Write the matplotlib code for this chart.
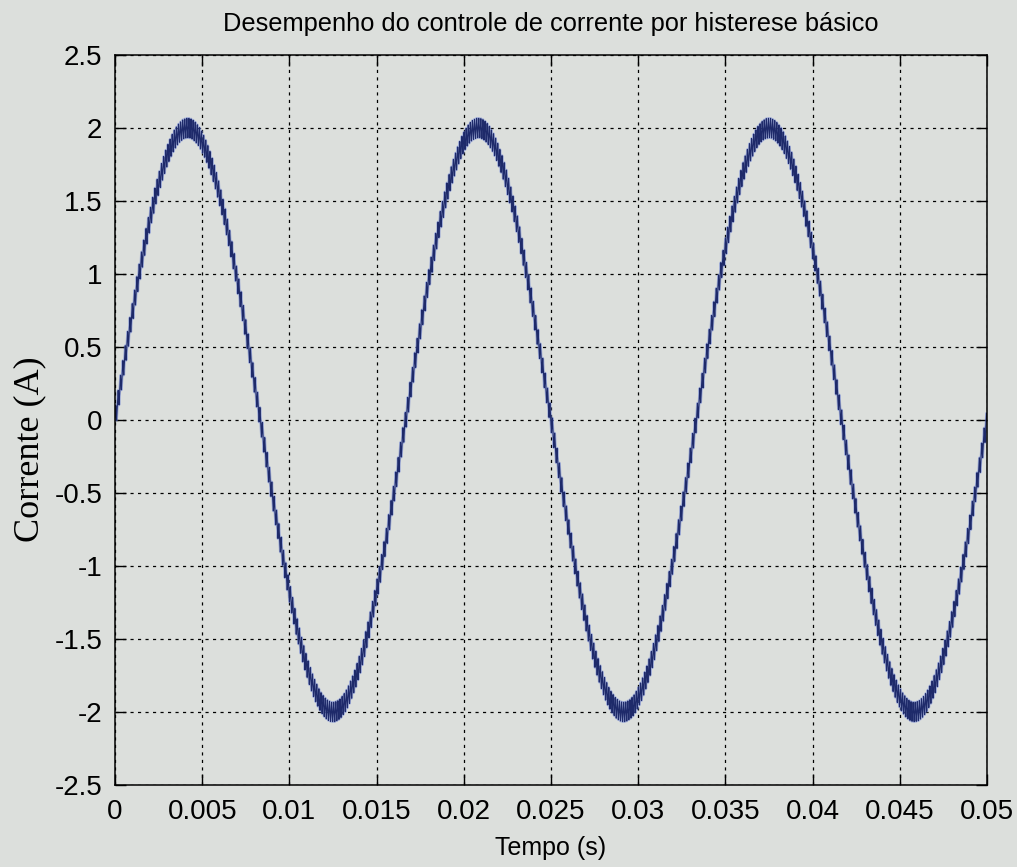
import numpy as np
import matplotlib.pyplot as plt

# parametros da simulacao
t_end = 0.05          # s
freq = 60.0           # Hz
amplitude = 2.0       # A, corrente de referencia
band = 0.065          # A, meia-largura da banda de histerese
slew = 2200.0         # A/s, Vdc/L
dt = 1e-6

x_ticks = [0, 0.005, 0.01, 0.015, 0.02, 0.025, 0.03, 0.035, 0.04, 0.045, 0.05]
x_labels = ['0', '0.005', '0.01', '0.015', '0.02', '0.025', '0.03', '0.035', '0.04', '0.045', '0.05']
y_ticks = [-2.5, -2, -1.5, -1, -0.5, 0, 0.5, 1, 1.5, 2, 2.5]
y_labels = ['-2.5', '-2', '-1.5', '-1', '-0.5', '0', '0.5', '1', '1.5', '2', '2.5']

# controle por histerese basico
t = np.arange(0, t_end + dt, dt)
iref = amplitude * np.sin(2 * np.pi * freq * t)
i = np.zeros_like(t)
s = 1
for k in range(1, len(t)):
    i[k] = i[k - 1] + s * slew * dt
    if i[k] > iref[k] + band:
        s = -1
    elif i[k] < iref[k] - band:
        s = 1

bg = '#dcdfdc'
fig = plt.figure(figsize=(10.17, 8.67), dpi=100, facecolor=bg)
ax = fig.add_axes([115 / 1017, 1 - 785 / 867, 872 / 1017, 730 / 867], facecolor=bg)

ax.plot(t, i, color='#6a7fd0', linewidth=2.0, alpha=0.55)
ax.plot(t, i, color='#1e2a6a', linewidth=0.8)

ax.set_xlim(0, 0.05)
ax.set_ylim(-2.5, 2.5)
ax.set_xticks(x_ticks)
ax.set_xticklabels(x_labels)
ax.set_yticks(y_ticks)
ax.set_yticklabels(y_labels)
ax.tick_params(direction='in', length=8, width=1, top=True, right=True,
               labelsize=20)
ax.tick_params(axis='x', pad=10)
ax.tick_params(axis='y', pad=9)
for lab in ax.get_xticklabels() + ax.get_yticklabels():
    lab.set_family('Liberation Sans')
ax.grid(True, color='black', linestyle=(0, (2.5, 3.5)), linewidth=0.9)
for sp in ax.spines.values():
    sp.set_linewidth(1.1)

ax.set_title('Desempenho do controle de corrente por histerese básico',
             family='Liberation Sans', fontsize=18.3, pad=17)
ax.set_xlabel('Tempo (s)', family='Liberation Sans', fontsize=18, labelpad=8)
ax.set_ylabel('Corrente (A)', family='Liberation Serif', fontsize=26)
ax.yaxis.set_label_coords(-0.079, 0.46)

fig.savefig('out.png', dpi=100, facecolor=bg)
